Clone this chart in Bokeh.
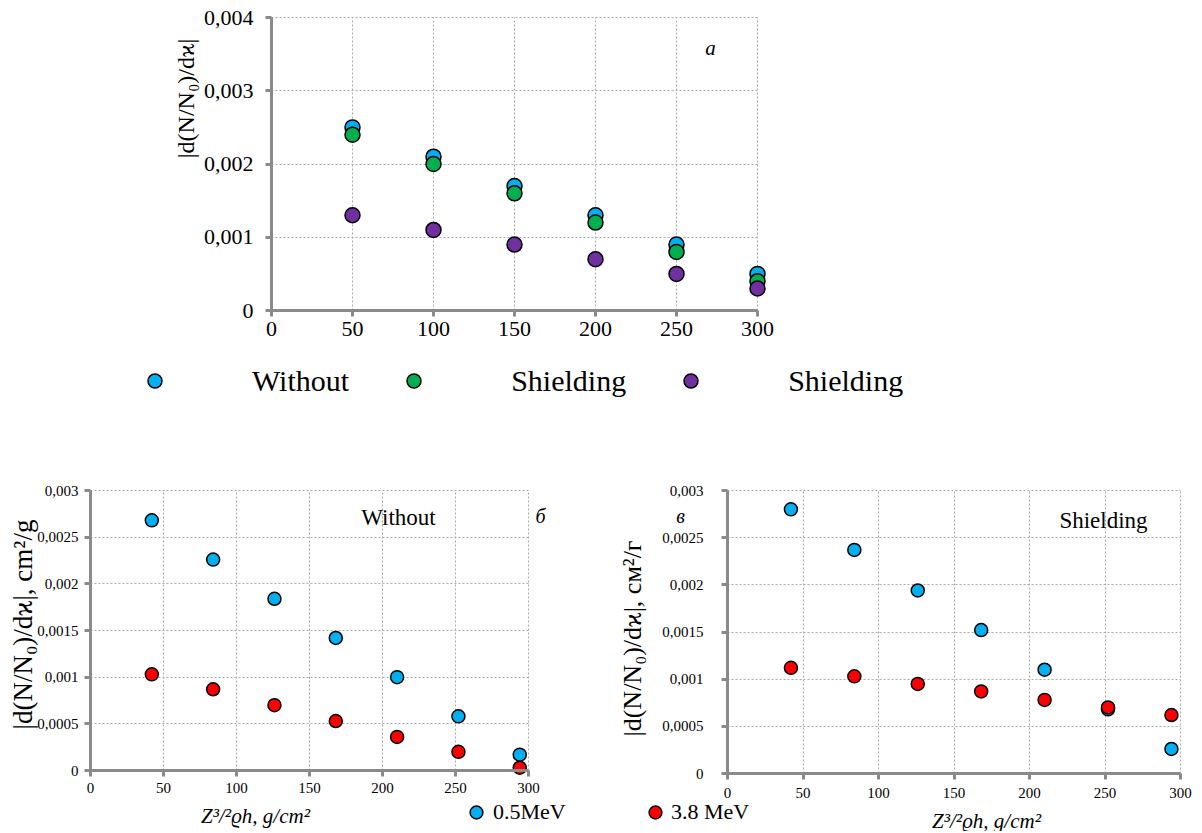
import math
from bokeh.plotting import figure
from bokeh.models import FixedTicker, CustomJSTickFormatter, Label, Legend, LegendItem
from bokeh.layouts import column, row
from bokeh.embed import file_html
from bokeh.resources import INLINE

# ---------------- data ----------------
x_ticks = [0, 50, 100, 150, 200, 250, 300]

# chart a
a_x = [50, 100, 150, 200, 250, 300]
a_without = [0.0025, 0.0021, 0.0017, 0.0013, 0.0009, 0.0005]
a_shield_green = [0.0024, 0.0020, 0.0016, 0.0012, 0.0008, 0.0004]
a_shield_purple = [0.0013, 0.0011, 0.0009, 0.0007, 0.0005, 0.0003]
a_legend = ["Without", "Shielding", "Shielding"]
a_y_ticks = [0, 0.001, 0.002, 0.003, 0.004]

# charts b and c
bc_x = [42, 84, 126, 168, 210, 252, 294]
b_05 = [0.00268, 0.00226, 0.00184, 0.00142, 0.00100, 0.00058, 0.00017]
b_38 = [0.00103, 0.00087, 0.00070, 0.00053, 0.00036, 0.00020, 0.00003]
c_05 = [0.00280, 0.00237, 0.00194, 0.00152, 0.00110, 0.00068, 0.00026]
c_38 = [0.00112, 0.00103, 0.00095, 0.00087, 0.00078, 0.00070, 0.00062]
bc_y_ticks = [0, 0.0005, 0.001, 0.0015, 0.002, 0.0025, 0.003]
bc_legend = ["0.5MeV", "3.8 MeV"]

BLUE = "#00B0F0"
GREEN = "#00B050"
PURPLE = "#7030A0"
RED = "#FF0000"
AXIS = "#8a8a8a"
GRID = "#a8a8a8"
SERIF = "Liberation Serif"

fmt_code = """
if (tick == 0) { return "0"; }
return String(parseFloat(tick.toPrecision(6))).replace(".", ",");
"""


def make_fig(W, H, px0, px300, py0, pytop, yend, yticks, tick_size, y_standoff, x_standoff):
    """The frame fills the whole canvas; the plot area (0..300, 0..yend) sits at
    the given pixel box, so the texts around it stay inside the frame."""
    kx = (px300 - px0) / 300.0
    ky = (py0 - pytop) / yend
    x_range = (-px0 / kx, (W - px0) / kx)
    y_range = (-(H - py0) / ky, yend + pytop / ky)
    p = figure(width=W, height=H, min_border=0, x_range=x_range, y_range=y_range,
               output_backend="svg", toolbar_location=None)
    p.outline_line_color = None
    p.background_fill_color = "white"
    p.border_fill_color = "white"
    p.xaxis.ticker = FixedTicker(ticks=x_ticks)
    p.yaxis.ticker = FixedTicker(ticks=yticks)
    p.yaxis.formatter = CustomJSTickFormatter(code=fmt_code)
    p.xaxis.fixed_location = 0
    p.yaxis.fixed_location = 0
    p.xaxis.bounds = (0, 300)
    p.yaxis.bounds = (0, yend)
    for ax in (p.xaxis, p.yaxis):
        ax.axis_line_color = AXIS
        ax.axis_line_width = 3
        ax.major_tick_line_color = AXIS
        ax.major_tick_line_width = 3
        ax.major_tick_out = 6
        ax.major_tick_in = 0
        ax.minor_tick_line_color = None
        ax.major_label_text_font = SERIF
        ax.major_label_text_font_size = tick_size
        ax.major_label_text_color = "black"
    p.yaxis.major_label_standoff = y_standoff
    p.xaxis.major_label_standoff = x_standoff
    try:
        p.xgrid.cross_bounds = (0, yend)
        p.ygrid.cross_bounds = (0, 300)
        p.xgrid.bounds = (0, 300)
        p.ygrid.bounds = (0, yend)
        for g in (p.xgrid, p.ygrid):
            g.grid_line_color = GRID
            g.grid_line_dash = "2 2"
            g.grid_line_width = 1
    except AttributeError:
        p.xgrid.visible = False
        p.ygrid.visible = False
        p.segment(x0=x_ticks, y0=[0] * len(x_ticks), x1=x_ticks, y1=[yend] * len(x_ticks),
                  line_color=GRID, line_dash="2 2", line_width=1)
        p.segment(x0=[0] * len(yticks), y0=yticks, x1=[300] * len(yticks), y1=yticks,
                  line_color=GRID, line_dash="2 2", line_width=1)
    return p


def label(p, x, y, text, size, style="normal", angle=0.0):
    p.add_layout(Label(x=x, y=y, x_units="screen", y_units="screen", text=text,
                       text_font=SERIF, text_font_size=size, text_font_style=style,
                       text_align="center", text_baseline="middle", angle=angle,
                       text_color="black"))


def legend(p, items, loc, size, gw, standoff, spacing):
    leg = Legend(items=items, location=loc, orientation="horizontal",
                 label_text_font=SERIF, label_text_font_size=size, label_text_color="black",
                 glyph_width=gw, glyph_height=gw, label_standoff=standoff, spacing=spacing,
                 padding=0, margin=0, border_line_color=None, background_fill_alpha=0)
    p.add_layout(leg, "center")


# ---------------- chart a ----------------
HA = 420
pa = make_fig(1200, HA, 271, 757, 310, 17, 0.004, a_y_ticks, "22px", 12, 5)
ra1 = pa.scatter(a_x, a_without, size=15, fill_color=BLUE, line_color="black", line_width=1.5)
ra2 = pa.scatter(a_x, a_shield_green, size=15, fill_color=GREEN, line_color="black", line_width=1.5)
ra3 = pa.scatter(a_x, a_shield_purple, size=15, fill_color=PURPLE, line_color="black", line_width=1.5)
legend(pa, [LegendItem(label=a_legend[0], renderers=[ra1]),
            LegendItem(label=a_legend[1], renderers=[ra2]),
            LegendItem(label=a_legend[2], renderers=[ra3])],
       (137, HA - 398), "30px", 35, 80, 47)
label(pa, 185, HA - 98, "|d(N/N\u2080)/d\u03f0|", "24px", angle=math.pi / 2)
label(pa, 710, HA - 47, "a", "21px", style="italic")

# ---------------- chart b ----------------
HB = 411
pb = make_fig(600, HB, 90, 528, 350, 70, 0.003, bc_y_ticks, "15px", 6, 6)
rb1 = pb.scatter(bc_x, b_05, size=13, fill_color=BLUE, line_color="black", line_width=1.5)
rb2 = pb.scatter(bc_x, b_38, size=13, fill_color=RED, line_color="black", line_width=1.5)
legend(pb, [LegendItem(label=bc_legend[0], renderers=[rb1])], (460, 3), "22px", 32, 1, 0)
label(pb, 22, HB - 204, "|d(N/N\u2080)/d\u03f0|, cm\u00b2/g", "27px", angle=math.pi / 2)
label(pb, 255, HB - 395, "Z\u00b3/\u00b2\u03f1h, g/cm\u00b2", "21px", style="italic")
label(pb, 398, HB - 97, "Without", "23px")
label(pb, 540, HB - 95, "\u0431", "20px", style="italic")

# ---------------- chart c ----------------
pc = make_fig(600, HB, 127, 580, 353, 70, 0.003, bc_y_ticks, "15px", 18, 8)
rc1 = pc.scatter(bc_x, c_05, size=13, fill_color=BLUE, line_color="black", line_width=1.5)
rc2 = pc.scatter(bc_x, c_38, size=13, fill_color=RED, line_color="black", line_width=1.5)
legend(pc, [LegendItem(label=bc_legend[1], renderers=[rc2])], (39, 3), "22px", 32, 0, 0)
label(pc, 32, HB - 218, "|d(N/N\u2080)/d\u03f0|, \u0441\u043c\u00b2/\u0433", "26px", angle=math.pi / 2)
label(pc, 386, HB - 400, "Z\u00b3/\u00b2\u03f1h, g/cm\u00b2", "21px", style="italic")
label(pc, 503, HB - 100, "Shielding", "23px")
label(pc, 80, HB - 95, "\u0432", "20px", style="italic")

layout = column(pa, row(pb, pc))
open("out.html", "w").write(file_html(layout, INLINE))
